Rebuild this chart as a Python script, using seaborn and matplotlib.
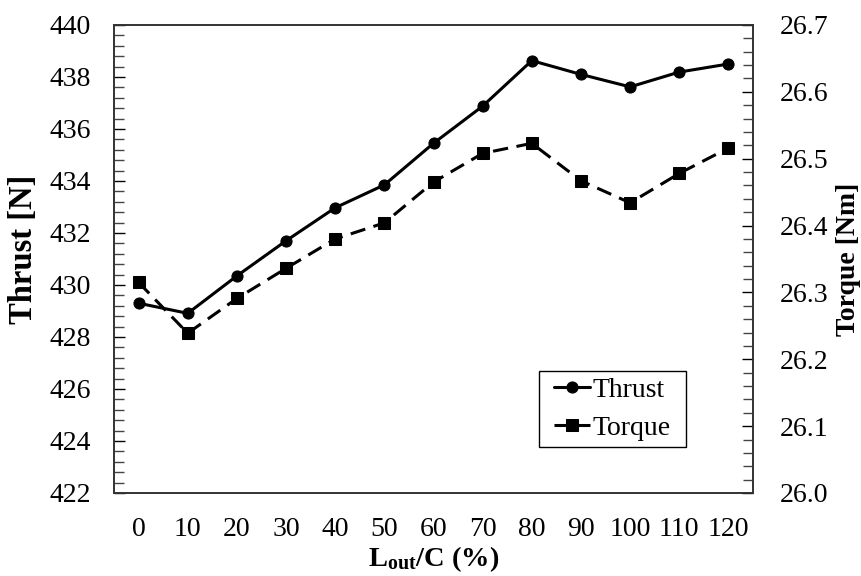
import matplotlib
matplotlib.use("Agg")
import matplotlib.pyplot as plt
import seaborn as sns
import pandas as pd
from matplotlib.ticker import MultipleLocator, FormatStrFormatter
from matplotlib.patches import Rectangle

sns.set_theme(style="white")
plt.rcParams['font.family'] = ['Liberation Serif', 'DejaVu Serif']
plt.rcParams['mathtext.fontset'] = 'custom'
plt.rcParams['mathtext.rm'] = 'Liberation Serif'
plt.rcParams['mathtext.bf'] = 'Liberation Serif:bold'
plt.rcParams['text.color'] = 'black'
plt.rcParams['axes.labelcolor'] = 'black'
plt.rcParams['xtick.color'] = 'black'
plt.rcParams['ytick.color'] = 'black'

lout_c = [0, 10, 20, 30, 40, 50, 60, 70, 80, 90, 100, 110, 120]
thrust = [429.30, 428.91, 430.35, 431.70, 432.97, 433.85, 435.45, 436.88,
          438.63, 438.10, 437.62, 438.19, 438.50]
torque = [26.315, 26.239, 26.291, 26.336, 26.380, 26.404, 26.465, 26.508,
          26.523, 26.467, 26.434, 26.478, 26.516]

df = pd.DataFrame({"x": lout_c, "Thrust": thrust, "Torque": torque})

fig = plt.figure(figsize=(8.62, 5.76), dpi=100)
ax = fig.add_axes([114/862, 1-493/576, (753-114)/862, (493-25)/576])
ax2 = ax.twinx()

sns.lineplot(data=df, x="x", y="Thrust", ax=ax, color="black", linewidth=2.2,
             marker="o", markersize=8, markeredgecolor="black", label="Thrust", legend=False)
sns.lineplot(data=df, x="x", y="Torque", ax=ax2, color="black", linewidth=2.2,
             marker="s", markersize=8, markeredgecolor="black", label="Torque", legend=False)
ax2.lines[0].set_dashes([5, 2.8])

ax.set_xlim(-5, 125)
ax.set_ylim(422, 440)
ax2.set_ylim(26.0, 26.7)
ax.set_xticks(lout_c)
ax.set_xticklabels([str(v) for v in lout_c])
ax.yaxis.set_major_locator(MultipleLocator(2))
ax.yaxis.set_minor_locator(MultipleLocator(0.4))
ax2.yaxis.set_major_locator(MultipleLocator(0.1))
ax2.yaxis.set_minor_locator(MultipleLocator(0.02))
ax2.yaxis.set_major_formatter(FormatStrFormatter('%.1f'))

ax.tick_params(axis='x', which='major', direction='in', length=5, width=1.2, labelsize=20, pad=17, colors='black')
ax.tick_params(axis='y', which='major', direction='in', length=8, width=1.0, labelsize=20, pad=16.5, left=True, colors='black')
ax.tick_params(axis='y', which='minor', direction='in', length=7, width=1.0, left=True, colors='#444444')
ax2.tick_params(axis='y', which='major', direction='in', length=8, width=1.0, labelsize=20, pad=19, right=True, colors='black')
ax2.tick_params(axis='y', which='minor', direction='in', length=7, width=1.0, right=True, colors='#444444')
ax.tick_params(axis='x', which='minor', bottom=False)

for a in (ax, ax2):
    for s in a.spines.values():
        s.set_color('#333333')
        s.set_linewidth(1.2)

ax.set_xlabel(r"$\mathbf{L_{out}}$/C (%)", fontsize=20.5, fontweight='bold', labelpad=2)
ax.set_ylabel("Thrust [N]", fontsize=23.5, fontweight='bold')
ax.yaxis.set_label_coords(-0.118, 0.52)
ax2.set_ylabel("Torque [Nm]", fontsize=20, fontweight='bold', labelpad=6)

# legend frame
x0, x1 = (539 - 114) / 639, (686 - 114) / 639
y0, y1 = (493 - 447) / 468, (493 - 371) / 468
ax.add_patch(Rectangle((x0, y0), x1 - x0, y1 - y0, transform=ax.transAxes,
                       facecolor='white', edgecolor='black', linewidth=1.0, zorder=5))

h1, l1 = ax.get_legend_handles_labels()
h2, l2 = ax2.get_legend_handles_labels()
leg = ax.legend(h1 + h2, l1 + l2, loc='center', bbox_to_anchor=((x0 + x1) / 2, (y0 + y1) / 2),
                fontsize=20, frameon=False,
                handlelength=1.3, handletextpad=0.1, borderpad=0.2, labelspacing=0.45,
                borderaxespad=0)
leg.set_zorder(6)

fig.savefig("out.png", dpi=100)
